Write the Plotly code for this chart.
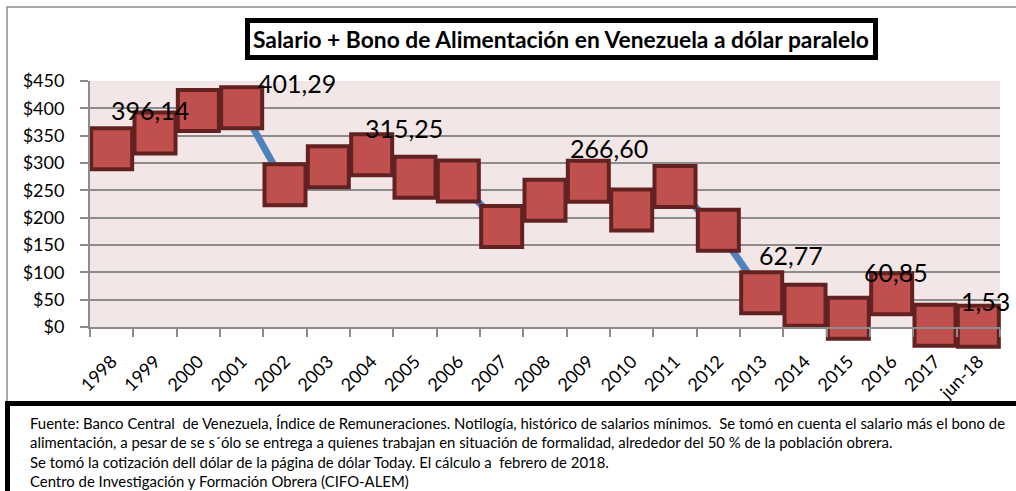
import plotly.graph_objects as go

# ---- data ----
categories = ["1998", "1999", "2000", "2001", "2002", "2003", "2004", "2005", "2006", "2007",
              "2008", "2009", "2010", "2011", "2012", "2013", "2014", "2015", "2016", "2017", "jun-18"]
values = [326, 355, 396.14, 401.29, 260, 293, 315.25, 274, 267, 184,
          232, 266.60, 214, 257, 177, 62.77, 40, 16, 60.85, 3, 1.53]
point_labels = [None, None, "396,14", "401,29", None, None, "315,25", None, None, None,
                None, "266,60", None, None, None, "62,77", None, None, "60,85", None, "1,53"]
y_tickvals = [0, 50, 100, 150, 200, 250, 300, 350, 400, 450]
y_ticktext = ["$0", "$50", "$100", "$150", "$200", "$250", "$300", "$350", "$400", "$450"]

title_text = "Salario + Bono de Alimentación en Venezuela a dólar paralelo"
footer_lines = [
    "Fuente: Banco Central  de Venezuela, Índice de Remuneraciones. Notilogía, histórico de salarios mínimos.  Se tomó en cuenta el salario más el bono de",
    "alimentación, a pesar de se s´ólo se entrega a quienes trabajan en situación de formalidad, alrededor del 50 % de la población obrera.",
    "Se tomó la cotización dell dólar de la página de dólar Today. El cálculo a  febrero de 2018.",
    "Centro de Investigación y Formación Obrera (CIFO-ALEM)",
]

# ---- layout geometry (pixels) ----
W, H = 1016, 491
PL, PR, PT, PB = 90, 1000, 81, 327
FONT = "Lato"


def px(x):
    return (x - PL) / (PR - PL)


def py(y):
    return (PB - y) / (PB - PT)


# label offsets (style)
label_shift = {2: (-48, 0), 3: (55, 25), 6: (32, 27), 11: (21, 33), 15: (29, 38), 18: (4, 22), 20: (7, 25)}

fig = go.Figure()
fig.add_trace(go.Scatter(
    x=categories, y=values, mode="lines",
    line=dict(color="#4F81BD", width=7),
    cliponaxis=False, hoverinfo="skip", showlegend=False,
))
fig.add_trace(go.Scatter(
    x=categories, y=values, mode="markers",
    marker=dict(symbol="square", size=41, color="#C0504D",
                line=dict(color="#632222", width=4)),
    cliponaxis=False, showlegend=False,
))

annotations = []
for i, lab in enumerate(point_labels):
    if lab is None:
        continue
    dx, dy = label_shift.get(i, (0, 25))
    annotations.append(dict(
        x=i, y=values[i], xref="x", yref="y", text=lab,
        showarrow=False, xshift=dx, yshift=dy,
        font=dict(family=FONT, size=25, color="#000000"),
    ))

# title
annotations.append(dict(
    x=px(561), y=py(39), xref="paper", yref="paper", text="<b>" + title_text + "</b>",
    showarrow=False, xanchor="center", yanchor="middle",
    font=dict(family=FONT, size=22.8, color="#000000"),
))

# footer lines
footer_y = [423, 442, 462, 481]
for txt, yy in zip(footer_lines, footer_y):
    annotations.append(dict(
        x=px(28), y=py(yy), xref="paper", yref="paper", text=txt,
        showarrow=False, xanchor="left", yanchor="middle",
        font=dict(family=FONT, size=14.9, color="#000000"),
    ))

shapes = [
    # outer chart border
    dict(type="rect", xref="paper", yref="paper", x0=px(7), y0=py(7), x1=px(1030), y1=py(488),
         line=dict(color="#8C8C8C", width=1.5), fillcolor="rgba(0,0,0,0)", layer="below"),
    # title box
    dict(type="rect", xref="paper", yref="paper", x0=px(247.5), y0=py(20.5), x1=px(875.5), y1=py(57.5),
         line=dict(color="#000000", width=5), fillcolor="#FFFFFF", layer="above"),
    # footer box
    dict(type="rect", xref="paper", yref="paper", x0=px(7.5), y0=py(403.5), x1=px(1040), y1=py(500),
         line=dict(color="#000000", width=5), fillcolor="#FFFFFF", layer="above"),
]

fig.update_layout(
    width=W, height=H,
    margin=dict(l=PL, r=W - PR, t=PT, b=H - PB, pad=0, autoexpand=False),
    paper_bgcolor="#FFFFFF", plot_bgcolor="#F2E7E6",
    font=dict(family=FONT, color="#000000"),
    showlegend=False,
    annotations=annotations, shapes=shapes,
    xaxis=dict(
        type="category", range=[-0.5, len(categories) - 0.5], automargin=False,
        tickson="boundaries", ticks="outside", ticklen=8, tickcolor="#8C8C8C", tickwidth=2,
        showgrid=False, showline=True, linecolor="#8C8C8C", linewidth=2,
        tickangle=-45, tickfont=dict(family=FONT, size=18, color="#000000"),
        ticklabelstandoff=15,
        fixedrange=True,
    ),
    yaxis=dict(
        range=[0, 450], tickvals=y_tickvals, ticktext=y_ticktext, automargin=False,
        ticks="outside", ticklen=8, tickcolor="#8C8C8C", tickwidth=2,
        showgrid=True, gridcolor="#8C8C8C", gridwidth=2,
        showline=True, linecolor="#8C8C8C", linewidth=2, zeroline=False,
        tickfont=dict(family=FONT, size=18, color="#000000"),
        ticklabelstandoff=12, fixedrange=True,
    ),
)

fig.write_html(
    "out.html",
    config={"displayModeBar": False},
    post_script="document.body.style.margin='0px';document.body.style.overflow='hidden';",
)
